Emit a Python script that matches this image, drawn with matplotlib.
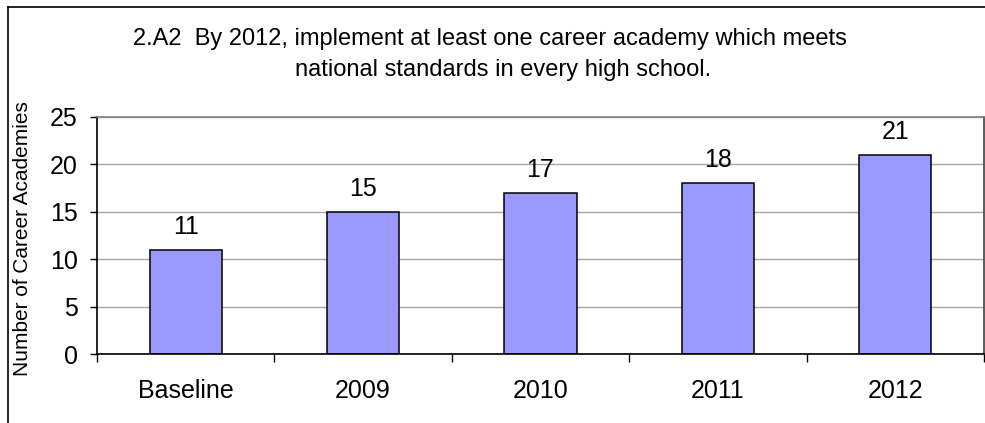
import numpy as np
import matplotlib.pyplot as plt
from matplotlib.lines import Line2D

plt.rcParams['font.family'] = ['Liberation Sans', 'DejaVu Sans']

categories = ['Baseline', '2009', '2010', '2011', '2012']
academies = [11, 15, 17, 18, 21]
yticks = [0, 5, 10, 15, 20, 25]

W, H = 985, 423
fig = plt.figure(figsize=(W / 100, H / 100), dpi=100)
ax = fig.add_axes([97 / W, 1 - 354 / H, 887 / W, 237 / H])

x = np.arange(len(categories))
bars = ax.bar(x, academies, width=0.406, color='#9999ff', edgecolor='black',
              linewidth=1.1, zorder=3)
for xi, v in zip(x, academies):
    ax.annotate(str(v), (xi, v), xytext=(0, 11.5), textcoords='offset points',
                ha='center', va='baseline', fontsize=18)

ax.set_xlim(-0.5, len(categories) - 0.5)
ax.set_ylim(0, 25)
ax.set_yticks(yticks)
ax.tick_params(axis='y', labelsize=18, length=5, width=1, pad=9, direction='out')
ax.yaxis.grid(True, color='#a6a6a6', linewidth=1, zorder=0)

# category boundaries get the tick marks, centers get the labels
ax.set_xticks(np.arange(len(categories) + 1) - 0.5)
ax.set_xticklabels([])
ax.tick_params(axis='x', which='major', length=6, width=1, direction='out')
ax.set_xticks(x, minor=True)
ax.set_xticklabels(categories, minor=True)
ax.tick_params(axis='x', which='minor', length=0, labelsize=18, pad=18)

ax.spines['left'].set_color('black')
ax.spines['bottom'].set_color('black')
ax.spines['bottom'].set_zorder(4)
ax.spines['top'].set_color('#808080')
ax.spines['right'].set_color('#404040')
for s in ax.spines.values():
    s.set_linewidth(1.2)

fig.text(490 / W, 1 - 45 / H,
         '2.A2  By 2012, implement at least one career academy which meets',
         ha='center', va='baseline', fontsize=17)
fig.text(503 / W, 1 - 76 / H, 'national standards in every high school.',
         ha='center', va='baseline', fontsize=17)
fig.text(23 / W, 1 - 239 / H, 'Number of Career Academies', rotation=90,
         ha='center', va='center', fontsize=15)

# outer chart frame
fig.add_artist(Line2D([8 / W, 8 / W], [0, 1 - 7 / H], color='black', lw=1.2,
                      transform=fig.transFigure))
fig.add_artist(Line2D([8 / W, 1], [1 - 7 / H, 1 - 7 / H], color='black', lw=1.2,
                      transform=fig.transFigure))

fig.savefig('out.png', dpi=100)
